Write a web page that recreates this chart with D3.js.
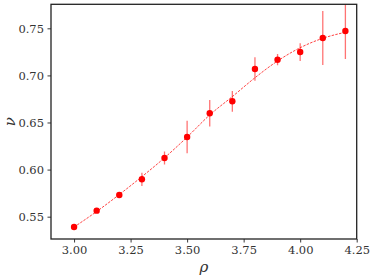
<!DOCTYPE html>
<html>
<head>
<meta charset="utf-8">
<script src="https://cdn.jsdelivr.net/npm/d3@7"></script>
<style>
  html, body { margin: 0; padding: 0; background: #fff; }
  svg text { font-family: "DejaVu Serif", serif; }
</style>
</head>
<body>
<svg id="chart" width="374" height="280"></svg>
<script>
// data
var rho = [3.0, 3.1, 3.2, 3.3, 3.4, 3.5, 3.6, 3.7, 3.8, 3.9, 4.0, 4.1, 4.2]
var nu = [0.539, 0.5564, 0.573, 0.5897, 0.6123, 0.6346, 0.6598, 0.6725, 0.7068, 0.7167, 0.7248, 0.7397, 0.7471]
var nuErr = [0.002, 0.002, 0.003, 0.007, 0.007, 0.0173, 0.014, 0.011, 0.0124, 0.006, 0.0094, 0.0287, 0.0297]
// dashed fit curve, read at the same rho values
var fitNu = [0.539, 0.5555, 0.5735, 0.5925, 0.6125, 0.6345, 0.658, 0.6775, 0.6975, 0.7153, 0.7294, 0.7394, 0.7458]
var xTicks = [3.0, 3.25, 3.5, 3.75, 4.0, 4.25]
var yTicks = [0.55, 0.60, 0.65, 0.70, 0.75]

var serif = '"DejaVu Serif", serif'

const drawChart = () => {
  const pl = 51, pr = 356.7, pt = 4.3, pb = 239

  const svg = d3.select('#chart')

  const x = d3.scaleLinear().domain([2.898, 4.25]).range([pl, pr])
  const y = d3.scaleLinear().domain([0.5263, 0.7755]).range([pb, pt])

  svg.append('clipPath').attr('id', 'clip')
    .append('rect')
    .attr('x', pl).attr('y', pt)
    .attr('width', pr - pl).attr('height', pb - pt)

  const plot = svg.append('g').attr('clip-path', 'url(#clip)')

  // fit line
  const line = d3.line()
    .x((d, i) => x(rho[i]))
    .y(d => y(d))
    .curve(d3.curveMonotoneX)

  plot.append('path')
    .datum(fitNu)
    .attr('d', line)
    .attr('fill', 'none')
    .attr('stroke', 'red')
    .attr('stroke-opacity', 0.75)
    .attr('stroke-width', 1)
    .attr('stroke-dasharray', '2.5,1.3')

  // error bars
  plot.selectAll('line.err')
    .data(nu)
    .enter()
    .append('line')
    .attr('class', 'err')
    .attr('x1', (d, i) => x(rho[i]))
    .attr('x2', (d, i) => x(rho[i]))
    .attr('y1', (d, i) => y(d - nuErr[i]))
    .attr('y2', (d, i) => y(d + nuErr[i]))
    .attr('stroke', 'red')
    .attr('stroke-opacity', 0.55)
    .attr('stroke-width', 1.3)

  // points
  plot.selectAll('circle.pt')
    .data(nu)
    .enter()
    .append('circle')
    .attr('class', 'pt')
    .attr('cx', (d, i) => x(rho[i]))
    .attr('cy', d => y(d))
    .attr('r', 3.2)
    .attr('fill', 'red')

  // axes
  const xAxis = d3.axisBottom(x).tickValues(xTicks).tickFormat(d3.format('.2f')).tickSize(3.5).tickPadding(3.5)
  const yAxis = d3.axisLeft(y).tickValues(yTicks).tickFormat(d3.format('.2f')).tickSize(3.5).tickPadding(3.5)

  const gx = svg.append('g').attr('transform', 'translate(0,' + pb + ')').call(xAxis)
  const gy = svg.append('g').attr('transform', 'translate(' + pl + ',0)').call(yAxis)

  ;[gx, gy].forEach(g => {
    g.attr('font-family', null).attr('font-size', null)
    g.select('.domain').remove()
    g.selectAll('.tick line').attr('stroke', '#222').attr('stroke-width', 0.9)
    g.selectAll('.tick text')
      .attr('fill', '#333')
      .attr('font-family', serif)
      .attr('font-size', 11.5)
  })

  // frame
  svg.append('rect')
    .attr('x', pl).attr('y', pt)
    .attr('width', pr - pl).attr('height', pb - pt)
    .attr('fill', 'none')
    .attr('stroke', '#222')
    .attr('stroke-width', 1.3)

  // axis labels
  svg.append('text')
    .attr('x', (pl + pr) / 2)
    .attr('y', 272)
    .attr('text-anchor', 'middle')
    .attr('font-family', serif)
    .attr('font-size', 15)
    .attr('font-style', 'italic')
    .attr('fill', '#333')
    .text('ρ')

  svg.append('text')
    .attr('transform', 'translate(15,' + ((pt + pb) / 2) + ') rotate(-90)')
    .attr('text-anchor', 'middle')
    .attr('font-family', serif)
    .attr('font-size', 15)
    .attr('font-style', 'italic')
    .attr('fill', '#333')
    .text('ν')
}

drawChart()
</script>
</body>
</html>
